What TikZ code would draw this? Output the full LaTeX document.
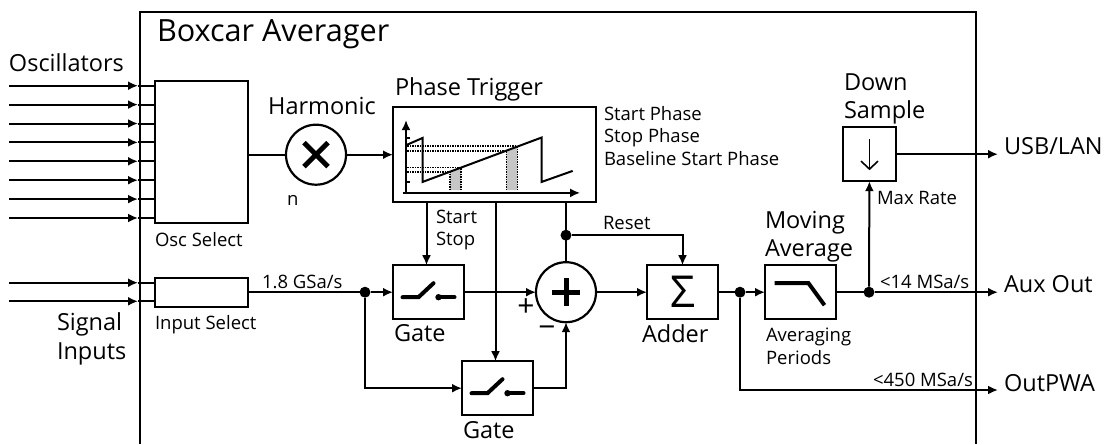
\documentclass[tikz,border=0pt]{standalone}
\usepackage{fontspec}
\setmainfont{Open Sans}
\usetikzlibrary{arrows.meta,positioning,calc}
\newcommand{\smalltext}{\fontsize{18.5}{22.5}\selectfont}
\newcommand{\midtext}{\fontsize{23.5}{28.5}\selectfont}
\newcommand{\bigtext}{\fontsize{30.6}{34}\selectfont}
\tikzset{gateswitch/.pic={
 \draw[line width=4pt,line cap=round] (-26,5)--(-10,5)--(5,-9);
 \fill (10,5) circle (3.2pt);
 \draw[line width=4pt,line cap=round] (10,5)--(26,5);}}
\begin{document}
\begin{tikzpicture}[x=1pt,y=-1pt,>={Latex[length=10pt,width=9pt]},line width=2pt,
 every node/.style={align=left,inner sep=0pt,outer sep=0pt},
 block/.style={draw,line width=2.2pt,minimum width=71pt,minimum height=54pt},
 junction/.style={circle,fill=black,minimum size=11pt},
 mixer/.style={circle,draw,line width=2.2pt,minimum size=60pt},
 sml/.style={font=\smalltext},
 mid/.style={font=\midtext}]
\useasboundingbox (0,0) rectangle (1115,444);
\draw[line width=2.4pt] (140,444)--(140,12)--(976,12)--(976,444);
\node[font=\bigtext,anchor=west] (title) at (157,34) {Boxcar Averager};
\node[block,minimum width=93pt,minimum height=142pt] (oscsel) at (201.5,151.7) {};
\node[mixer,right=38pt of oscsel,yshift=-3pt] (harm) {};
\node[block,minimum width=203pt,minimum height=95pt,right=47pt of harm] (phase) {};
\node[block,below right=63pt and 0pt of phase.south west] (gateA) {};
\node[mixer,right=72pt of gateA] (sumcirc) {};
\node[block,font=\fontsize{44}{44}\selectfont,right=51pt of sumcirc] (adder) {Σ};
\node[block,right=47pt of adder] (movavg) {};
\node[block,below right=42pt and -2pt of gateA.south east] (gateB) {};
\node[block,minimum width=53pt,above=84pt of movavg.north east,xshift=33.5pt] (downs) {};
\node[block,minimum width=93pt,minimum height=29pt,below right=55pt and 0pt of oscsel.south west] (insel) {};
\node[junction,right=111.5pt of insel] (splitA) {};
\node[junction,right=16.5pt of adder] (splitB) {};
\node[junction,above=21.5pt of sumcirc] (splitC) {};
\node[junction,right=27.5pt of movavg] (splitD) {};
\node[mid,anchor=west] (osclabel) at (9,63) {Oscillators};
\node[mid,anchor=north west] (siglabel) at (57,313) {Signal\\Inputs};
\node[mid,above=10pt of harm,xshift=6pt] (harmlabel) {Harmonic};
\node[sml,anchor=west] (nlabel) at (287,200) {n};
\node[sml,below right=10pt and 0pt of oscsel.south west] (osclab) {Osc Select};
\node[sml,below right=9pt and 0pt of insel.south west] (inlab) {Input Select};
\node[mid,above right=6pt and 2pt of phase.north west] (phaselabel) {Phase Trigger};
\node[sml,anchor=north west] (phaselist) at (604,106) {Start Phase\\Stop Phase\\Baseline Start Phase};
\node[sml,anchor=north west] (startstop) at (436,210) {Start\\Stop};
\node[sml,anchor=west] (resetlabel) at (603,223) {Reset};
\node[sml,anchor=west] (ratelabel) at (262,282) {1.8 GSa/s};
\node[mid,below right=5pt and 1pt of gateA.south west] (gateAlabel) {Gate};
\node[mid,below right=6pt and 1pt of gateB.south west] (gateBlabel) {Gate};
\node[mid,below right=5pt and -5pt of adder.south west] (adderlabel) {Adder};
\node[mid,above right=3pt and 0pt of movavg.north west] (movlabel) {Moving\\Average};
\node[sml,below right=9pt and 1pt of movavg.south west] (avglabel) {Averaging\\Periods};
\node[mid,above right=3pt and 1pt of downs.north west] (downlabel) {Down\\Sample};
\node[sml,anchor=west] (maxlabel) at (877,198) {Max Rate};
\node[sml,anchor=west] (auxrate) at (880,282) {<14 MSa/s};
\node[sml,anchor=west] (pwarate) at (873,380) {<450 MSa/s};
\node[mid,anchor=west] (usb) at (1004,146) {USB/LAN};
\node[mid,anchor=west] (aux) at (1004,284) {Aux Out};
\node[mid,anchor=west] (pwa) at (1004,383) {OutPWA};
\node[anchor=center,font=\fontsize{30}{30}\selectfont] (pluslabel) at (526,308) {+};
\node[anchor=center,font=\fontsize{30}{30}\selectfont] (minuslabel) at (547,332) {−};
\foreach \i in {0,...,7} {
 \coordinate (oscsrc\i) at (9,{85.7+18.9*\i});
 \coordinate (osctip\i) at (138,{85.7+18.9*\i});
 \draw[->] (oscsrc\i)--(osctip\i);
 \draw (osctip\i)--(osctip\i-|oscsel.west);
}
\foreach \i/\y in {0/282.7,1/301.3} {
 \coordinate (sigsrc\i) at (9,\y);
 \coordinate (sigtip\i) at (138,\y);
 \draw[->] (sigsrc\i)--(sigtip\i);
 \draw (sigtip\i)--(sigtip\i-|insel.west);
}
\draw (oscsel.east|-harm)--(harm);
\draw[->] (harm)--(phase);
\draw (insel)--(splitA);
\draw[->] (splitA)--(gateA);
\draw[->] (splitA)|-(gateB);
\draw[->] (gateA)--(sumcirc);
\draw[->] (gateB)-|(sumcirc);
\draw[->] (sumcirc)--(adder);
\draw (adder)--(splitB);
\draw[->] (splitB)--(movavg);
\draw (movavg)--(splitD);
\draw[->] (splitD)--(downs);
\draw[->] ([xshift=-2pt]phase.south-|gateA.north)--([xshift=-2pt]gateA.north);
\draw[->] ([xshift=-2pt]phase.south-|gateB.north)--([xshift=-2pt]gateB.north);
\draw (phase.south-|splitC)--(sumcirc);
\draw[->] (splitC)-|(adder);
\draw[->,shorten >=6pt] (downs)--(downs-|usb.west);
\draw[->,shorten >=6pt] (splitD)--(splitD-|aux.west);
\draw[->,shorten >=6pt] (splitB)|-(pwa.west|-0,390);
\begin{scope}[shift={(harm.center)}]
\draw[line width=5pt] (-12,-12)--(12,12) (-12,12)--(12,-12);
\end{scope}
\begin{scope}[shift={(sumcirc.center)}]
\draw[line width=5pt] (-14,0)--(14,0) (0,-14)--(0,14);
\end{scope}
\pic at (gateA) {gateswitch};
\pic at (gateB) {gateswitch};
\begin{scope}[shift={(movavg.center)}]
\draw[line width=4pt] (-26,-9)--(8,-9)--(24,13);
\end{scope}
\draw[line width=1.6pt,-{Straight Barb[length=8pt,width=17pt]}] ([yshift=15pt]downs.center)--([yshift=-16pt]downs.center);
\begin{scope}[shift={(phase.south west)}]
\fill[gray!45] (57,-12)--(57,-30.7)--(68,-34.7)--(68,-12)--cycle;
\fill[gray!45] (113.7,-12)--(113.7,-51.7)--(124.3,-55.7)--(124.3,-12)--cycle;
\draw[line width=1.5pt,densely dotted] (14.3,-56)--(124.3,-56) (14.3,-51.3)--(113.7,-51.3)
 (14.3,-34.7)--(68.7,-34.7) (14.3,-30)--(57,-30)
 (57,-12)--(57,-30.7) (68,-12)--(68,-34.7) (113.7,-12)--(113.7,-51.7) (124.3,-12)--(124.3,-55.7);
\draw[line width=1.6pt,->] (13,-9.3)--(13,-82);
\draw[line width=1.6pt,->] (9.7,-9.3)--(187,-9.3);
\draw[line width=1.6pt] (13,-64.3)--(17,-64.3) (13,-20.3)--(17,-20.3);
\draw[line width=2pt] (13,-57)--(29.7,-64.3)--(29.7,-20.3)--(148.7,-64.7)--(148.7,-20.3)--(179.7,-31.3);
\end{scope}
\end{tikzpicture}
\end{document}
